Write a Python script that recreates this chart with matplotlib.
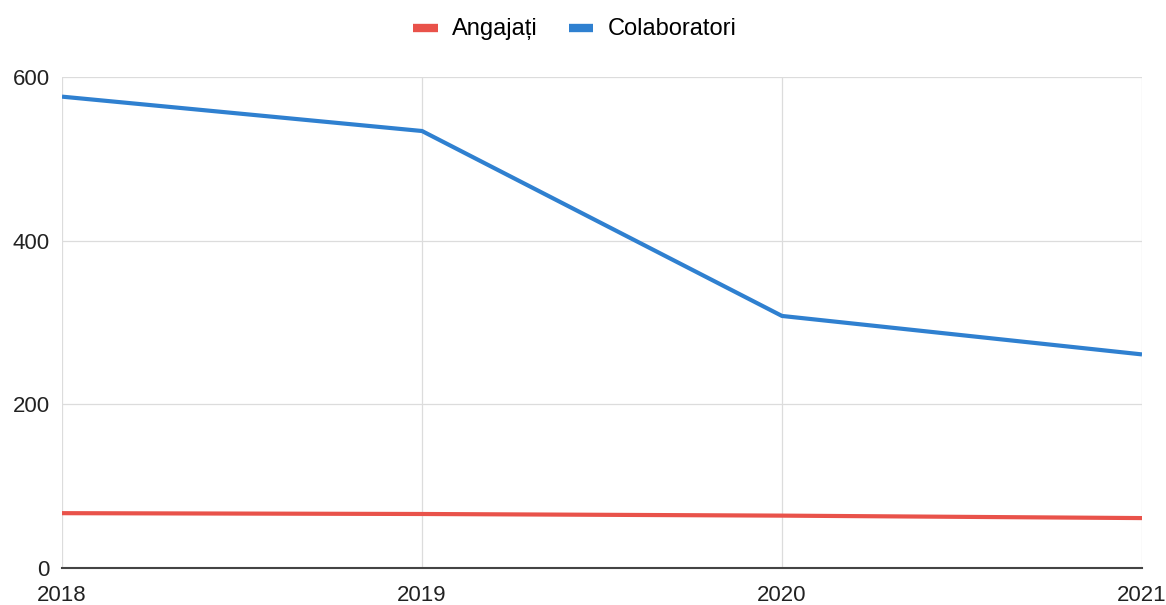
import matplotlib
matplotlib.use("Agg")
import matplotlib.pyplot as plt

years = [2018, 2019, 2020, 2021]
angajati = [67, 66, 64, 61]
colaboratori = [576, 534, 308, 261]
yticks = [0, 200, 400, 600]

plt.rcParams['font.family'] = ['Liberation Sans', 'DejaVu Sans']

fig = plt.figure(figsize=(11.66, 6.05), dpi=100)
ax = fig.add_axes([62/1166, 1-568/605, (1142-62)/1166, (568-77)/605])

ax.plot(years, angajati, color='#e9524a', lw=3, label='Angajați', solid_capstyle='butt')
ax.plot(years, colaboratori, color='#2f80d0', lw=3, label='Colaboratori', solid_capstyle='butt')

ax.set_xlim(2018, 2021)
ax.set_ylim(0, 600)
ax.set_xticks(years)
ax.set_yticks(yticks)
ax.set_xticklabels([str(y) for y in years])
ax.grid(True, color='#dcdcdc', lw=0.9)
ax.set_axisbelow(True)
for s in ['top', 'right', 'left']:
    ax.spines[s].set_visible(False)
ax.spines['bottom'].set_color('#444444')
ax.spines['bottom'].set_linewidth(1.5)
ax.tick_params(axis='both', length=0, labelsize=16, colors='#222222')
ax.tick_params(axis='x', pad=12)
ax.tick_params(axis='y', pad=9)

leg = fig.legend(handles=ax.get_lines(), loc='upper center', bbox_to_anchor=(0.493, 1.005),
                 ncol=2, frameon=False, fontsize=17, handlelength=1.05, handleheight=0.5,
                 columnspacing=1.3, handletextpad=0.6)
for h in leg.legend_handles:
    h.set_linewidth(6)

fig.savefig('out.png', dpi=100, facecolor='white')
